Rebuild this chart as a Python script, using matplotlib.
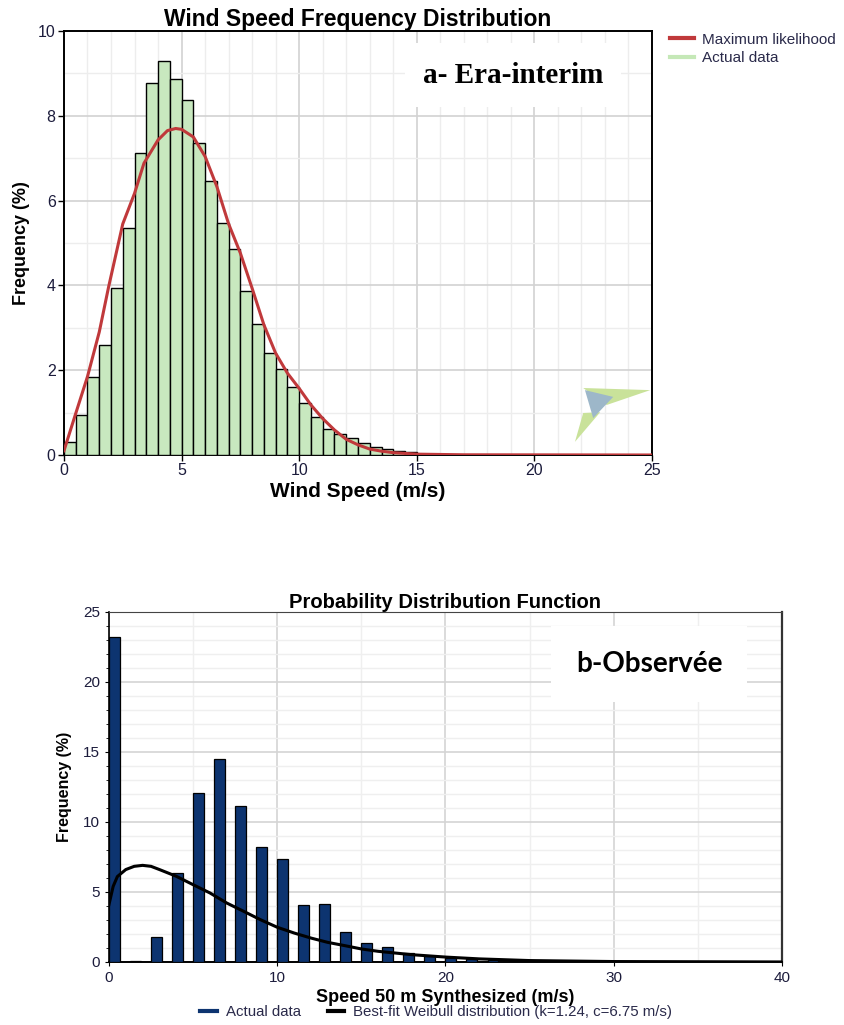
import numpy as np
import matplotlib
matplotlib.use("Agg")
import matplotlib.pyplot as plt
from matplotlib.lines import Line2D
from matplotlib.patches import Polygon

plt.rcParams['font.family'] = ['Liberation Sans', 'DejaVu Sans']

# --- panel a : Era-interim histogram (0.5 m/s classes) ---
era_bin_left = np.arange(0, 16, 0.5)
era_freq = [0.31, 0.94, 1.83, 2.59, 3.95, 5.35, 7.13, 8.77, 9.29, 8.86,
            8.38, 7.35, 6.46, 5.48, 4.86, 3.87, 3.09, 2.40, 2.03, 1.61,
            1.22, 0.89, 0.62, 0.49, 0.39, 0.29, 0.20, 0.14, 0.09, 0.06,
            0.03, 0.02]

# maximum likelihood curve
ml_speed = [0, 0.5, 1.0, 1.5, 1.9, 2.5, 3.0, 3.4, 4.0, 4.4, 4.75, 5.0, 5.5,
            6.0, 6.5, 7.0, 7.5, 8.0, 8.5, 9.0, 9.5, 10.0, 10.5, 11.0, 11.5,
            12.0, 12.5, 13.0, 13.5, 14.0, 15.0, 17.0, 25.0]
ml_freq = [0.10, 0.98, 1.85, 2.90, 3.97, 5.45, 6.17, 6.88, 7.43, 7.65, 7.70,
           7.68, 7.50, 7.04, 6.33, 5.45, 4.76, 3.93, 3.07, 2.40, 1.93, 1.57,
           1.18, 0.86, 0.59, 0.37, 0.24, 0.14, 0.09, 0.055, 0.02, 0.005, 0.0]

# --- panel b : observed (1.25 m/s classes) ---
obs_bin_left = np.arange(0, 26, 1.25)
obs_freq = [23.2, 0.1, 1.79, 6.36, 12.05, 14.5, 11.15, 8.22, 7.33, 4.07,
            4.17, 2.14, 1.36, 1.05, 0.62, 0.45, 0.31, 0.21, 0.12, 0.08, 0.04]

weib_speed = [0, 0.25, 0.5, 1, 1.5, 2, 2.5, 3, 4, 5, 6, 7, 8, 9, 10, 11,
              12, 13, 14, 15, 16, 17, 18, 20, 22, 25, 30, 40]
weib_freq = [4.1, 5.4, 6.1, 6.6, 6.83, 6.9, 6.83, 6.6, 6.12, 5.52, 4.93,
             4.21, 3.62, 3.02, 2.48, 2.07, 1.71, 1.40, 1.17, 0.93, 0.76,
             0.64, 0.52, 0.35, 0.22, 0.10, 0.03, 0.0]

tick_col = '#1c1c3c'

fig = plt.figure(figsize=(8.44, 10.25), dpi=100)

# ---------------- top chart ----------------
ax1 = fig.add_axes([0.0758, 0.5561, 0.6967, 0.4137])
ax1.bar(era_bin_left, era_freq, width=0.5, align='edge', color='#c8e8bf',
        edgecolor='black', linewidth=1.0, zorder=3)
ax1.plot(ml_speed, ml_freq, color='#c0393b', lw=2.2, zorder=4)
ax1.set_xlim(0, 25)
ax1.set_ylim(0, 10)
ax1.set_xticks(range(0, 26, 5))
ax1.set_xticks(range(0, 26), minor=True)
ax1.set_yticks(range(0, 11, 2))
ax1.set_yticks(range(0, 11), minor=True)
ax1.grid(which='major', color='#d2d2d2', lw=1.2, zorder=0)
ax1.grid(which='minor', color='#ededed', lw=1.0, zorder=0)
ax1.tick_params(which='major', direction='out', length=4, labelsize=11.5,
                labelcolor=tick_col, width=1, pad=2)
ax1.tick_params(which='minor', length=0)
for s in ax1.spines.values():
    s.set_linewidth(1.4)
    s.set_color('black')
ax1.set_title('Wind Speed Frequency Distribution', fontsize=16.5,
              fontweight='bold', pad=2)
ax1.set_xlabel('Wind Speed (m/s)', fontsize=15, fontweight='bold', labelpad=3)
ax1.set_ylabel('Frequency (%)', fontsize=13, fontweight='bold', labelpad=6)
ax1.text(19.1, 8.96, 'a- Era-interim', fontsize=21, fontweight='bold',
         family='Liberation Serif', ha='center', va='center', zorder=5,
         bbox=dict(facecolor='white', edgecolor='none', pad=13))

# faint logo in the corner
ax1.add_patch(Polygon([(0.883, 0.158), (0.997, 0.153), (0.923, 0.118)],
                      closed=True, transform=ax1.transAxes,
                      color='#c9e29a', lw=0, zorder=2))
ax1.add_patch(Polygon([(0.869, 0.031), (0.883, 0.099), (0.912, 0.101)],
                      closed=True, transform=ax1.transAxes,
                      color='#c9e29a', lw=0, zorder=2))
ax1.add_patch(Polygon([(0.886, 0.153), (0.934, 0.137), (0.900, 0.087)],
                      closed=True, transform=ax1.transAxes,
                      color='#9db7c9', lw=0, zorder=2))

top_handles = [Line2D([], [], color='#c0393b', lw=3),
               Line2D([], [], color='#c5e8b7', lw=3)]
fig.legend(top_handles, ['Maximum likelihood', 'Actual data'],
           loc='upper left', bbox_to_anchor=(0.783, 0.977), frameon=False,
           fontsize=11, handlelength=1.6, handletextpad=0.5,
           labelspacing=0.3, labelcolor='#2a2a4a', borderaxespad=0.2)

# ---------------- bottom chart ----------------
ax2 = fig.add_axes([0.1291, 0.0615, 0.7974, 0.3415])
ax2.bar(obs_bin_left, obs_freq, width=0.65, align='edge', color='#0d3470',
        edgecolor='black', linewidth=0.9, zorder=3)
ax2.plot(weib_speed, weib_freq, color='black', lw=2.2, zorder=4)
ax2.set_xlim(0, 40)
ax2.set_ylim(0, 25)
ax2.set_xticks(range(0, 41, 10))
ax2.set_xticks(range(0, 41, 5), minor=True)
ax2.set_yticks(range(0, 26, 5))
ax2.set_yticks(range(0, 26), minor=True)
ax2.grid(which='major', color='#d4d4d4', lw=1.2, zorder=0)
ax2.grid(which='minor', color='#efefef', lw=1.0, zorder=0)
ax2.tick_params(which='major', direction='out', length=3, labelsize=11,
                labelcolor=tick_col)
ax2.tick_params(which='minor', direction='out', length=2)
ax2.tick_params(axis='x', which='minor', length=0)
ax2.spines['left'].set_linewidth(1.2)
ax2.spines['bottom'].set_linewidth(1.4)
ax2.spines['top'].set_color('#444444')
ax2.spines['right'].set_color('#333333')
ax2.spines['right'].set_linewidth(1.6)
ax2.set_title('Probability Distribution Function', fontsize=14.5,
              fontweight='bold', pad=2)
ax2.set_xlabel('Speed 50 m Synthesized (m/s)', fontsize=13,
               fontweight='bold', labelpad=3)
ax2.set_ylabel('Frequency (%)', fontsize=11.5, fontweight='bold', labelpad=8)
ax2.text(32.1, 21.25, 'b-Observée', fontsize=20, fontweight='bold',
         family='Lato', ha='center', va='center', zorder=5,
         bbox=dict(facecolor='white', edgecolor='none', pad=18))

bot_handles = [Line2D([], [], color='#0d3470', lw=3),
               Line2D([], [], color='black', lw=3)]
fig.legend(bot_handles, ['Actual data',
                         'Best-fit Weibull distribution (k=1.24, c=6.75 m/s)'],
           loc='center', bbox_to_anchor=(0.517, 0.0125), ncol=2,
           frameon=False, fontsize=10.8, handlelength=1.1,
           handletextpad=0.6, columnspacing=1.8, labelcolor='#2a2a4a')

fig.savefig('out.png', dpi=100)
